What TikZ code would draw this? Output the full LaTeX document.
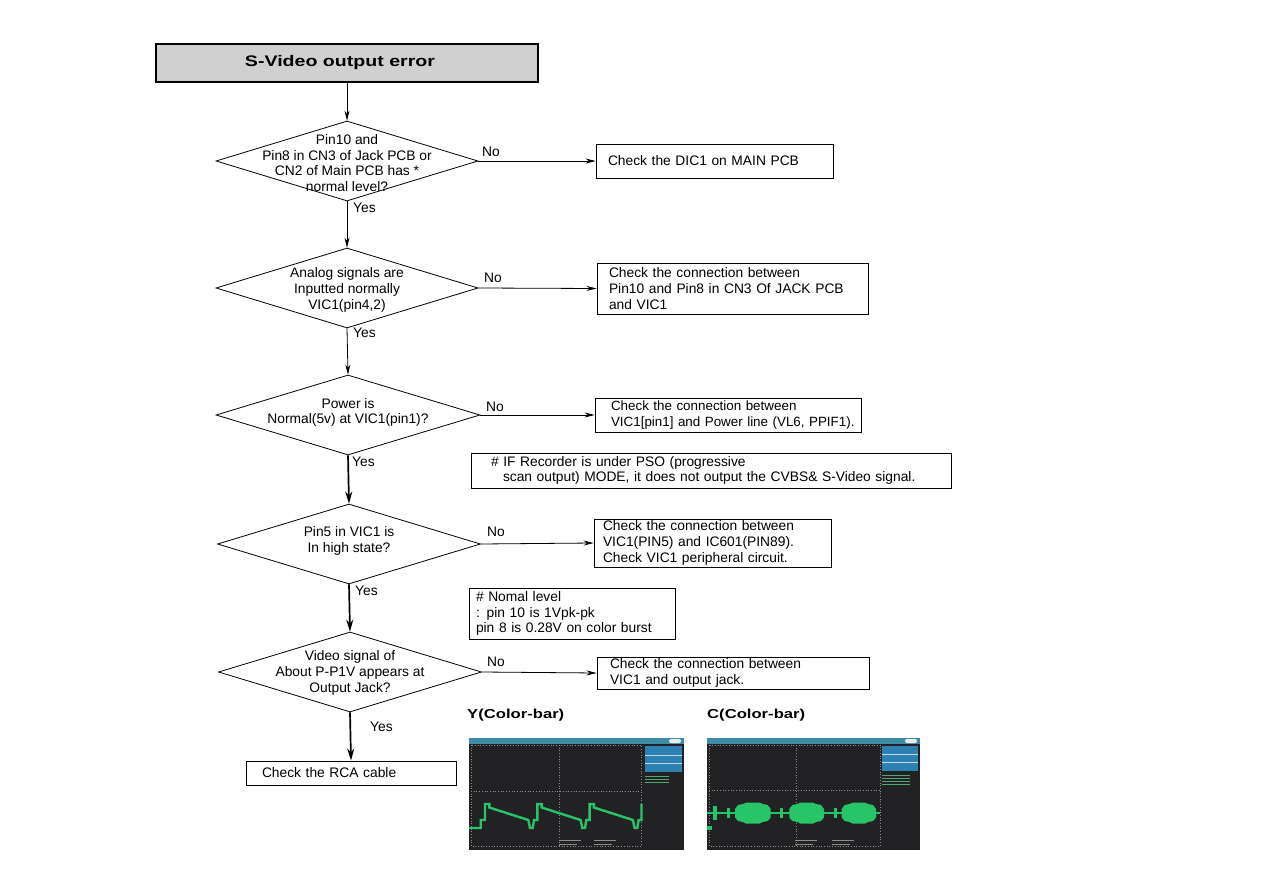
\documentclass[tikz,border=0pt]{standalone}
\usepackage{fontspec}
\setmainfont{Liberation Sans}
\newfontfamily\widebold{Liberation Sans}[FakeStretch=1.28]
\usetikzlibrary{shapes.geometric,arrows.meta}
\definecolor{titlegray}{RGB}{208,208,208}
\definecolor{scopebg}{RGB}{34,34,36}
\definecolor{scopebar}{RGB}{62,140,166}
\definecolor{scopeblue}{RGB}{44,128,178}
\definecolor{scopegreen}{RGB}{40,196,104}
\definecolor{gridgray}{RGB}{140,140,140}
\tikzset{
  every node/.style={font=\fontsize{13.8}{15.6}\selectfont},
  dia/.style={shape=diamond, draw, line width=0.8pt, minimum width=262pt, minimum height=80pt, inner sep=0pt},
  dtext/.style={align=center, inner sep=0pt},
  box/.style={draw, line width=0.9pt, align=left, inner ysep=0pt},
  lab/.style={inner sep=0pt, anchor=west},
  conn/.style={line width=0.8pt, -{Stealth[length=10pt,width=5pt]}},
  bconn/.style={line width=1.7pt, -{Stealth[length=12pt,width=7pt]}},
  scopelbl/.style={font=\widebold\bfseries\fontsize{13}{15}\selectfont, inner sep=0pt, anchor=west},
  wave/.style={draw=scopegreen, line width=2.4pt, line join=miter},
  grid dots/.style={draw=gridgray, line width=0.7pt, dotted}
}
\begin{document}
\begin{tikzpicture}[x=1pt,y=-1pt]
\useasboundingbox[fill=white] (0,0) rectangle (1263,893);

% title
\node[draw, fill=titlegray, line width=1.1pt, minimum width=382pt, minimum height=38pt,
      font=\widebold\bfseries\fontsize{15.3}{18}\selectfont] (t) at (347,63) {S-Video output error\hspace*{14pt}};

% decisions
\node[dia, label={[dtext, yshift=-2pt]center:{Pin10 and\\Pin8 in CN3 of Jack PCB or\\CN2 of Main PCB has *\\normal level?}}] (d1) at (347,161) {};
\node[dia, label={[dtext, yshift=-2pt]center:{Analog signals are\\Inputted normally\\VIC1(pin4,2)}}] (d2) at (347,288) {};
\node[dia, minimum width=264pt, label={[dtext, yshift=2.5pt]center:{Power is\\Normal(5v) at VIC1(pin1)?}}] (d3) at (348,415) {};
\node[dia, minimum width=263pt, label={[dtext, yshift=3pt]center:{Pin5 in VIC1 is\\In high state?}}] (d4) at (349,544) {};
\node[dia, minimum width=263pt, label={[dtext, yshift=-1pt]center:{Video signal of\\About P-P1V appears at\\Output Jack?}}] (d5) at (350,672) {};

% action boxes
\node[box, text width=213pt, inner xsep=12pt, minimum height=34pt] (b1) at (714.5,161) {Check the DIC1 on MAIN PCB};
\node[box, text width=247pt, inner xsep=12pt, minimum height=51pt] (b2) at (732.5,288.5) {Check the connection between\\Pin10 and Pin8 in CN3 Of JACK PCB\\and VIC1};
\node[box, text width=264pt, inner xsep=1pt, minimum height=34pt, font=\fontsize{13.4}{15.6}\selectfont] (b3) at (728,415) {\hspace*{15pt}Check the connection between\\\hspace*{15pt}VIC1[pin1] and Power line (VL6, PPIF1).};
\node[box, text width=219pt, inner xsep=9pt, minimum height=48pt] (b4) at (712.5,543) {Check the connection between\\VIC1(PIN5) and IC601(PIN89).\\Check VIC1 peripheral circuit.};
\node[box, text width=246pt, inner xsep=13pt, minimum height=32pt] (b5) at (733,673) {Check the connection between\\VIC1 and output jack.};
\node[box, text width=178pt, inner xsep=16pt, minimum height=24pt] (b6) at (351,773) {Check the RCA cable};

% notes
\node[box, text width=440pt, inner xsep=20pt, minimum height=35pt] (na) at (711,470.5) {\# IF Recorder is under PSO (progressive\\\hspace*{12pt}scan output) MODE, it does not output the CVBS\& S-Video signal.};
\node[box, text width=192pt, inner xsep=7pt, minimum height=51pt] (nb) at (572,613.5) {\# Nomal level\\: pin 10 is 1Vpk-pk\\pin 8 is 0.28V on color burst};

% connectors
\draw[conn] (t.south) -- (d1.north);
\draw[conn] (d1.south) -- (d2.north);
\draw[conn] (d2.south) -- (d3.north);
\draw[bconn] (d3.south) -- (d4.north);
\draw[bconn] (d4.south) -- (d5.north);
\draw[bconn] (d5.south) -- (b6.north);
\draw[conn] (d1.east) -- (b1.west);
\draw[conn] (d2.east) -- (b2.west);
\draw[conn] (d3.east) -- (b3.west);
\draw[conn] (d4.east) -- (b4.west);
\draw[conn] (d5.east) -- (b5.west);

% labels
\node[lab] (no1) at (482,152) {No};
\node[lab] (no2) at (484,278) {No};
\node[lab] (no3) at (486,407) {No};
\node[lab] (no4) at (487,532) {No};
\node[lab] (no5) at (487,662) {No};
\node[lab] (ye1) at (353,208) {Yes};
\node[lab] (ye2) at (353,333) {Yes};
\node[lab] (ye3) at (352,462) {Yes};
\node[lab] (ye4) at (355,591) {Yes};
\node[lab] (ye5) at (370,727) {Yes};

% scope captions
\node[scopelbl] (yc) at (467,715) {Y(Color-bar)};
\node[scopelbl] (cc) at (707,715) {C(Color-bar)};

% Y scope
\begin{scope}[shift={(469,738)}]
  \fill[scopebg] (0,0) rectangle (215,112);
  \fill[scopebar] (0,0) rectangle (215,6);
  \fill[scopeblue] (176,8) rectangle (213,34);
  \draw[white!70!scopeblue, line width=0.6pt] (176,17) -- (213,17) (176,25) -- (213,25);
  \fill[white!85!gray, rounded corners=2pt] (200,1) rectangle (212,5);
  \draw[grid dots] (2,7) rectangle (172,108);
  \draw[grid dots] (90,7) -- (90,108) (2,53) -- (172,53);
  \foreach \yy in {38,41,44} \draw[scopegreen!60!gray, line width=0.8pt] (176,\yy) -- (200,\yy);
  \foreach \xx in {90,125} \draw[gridgray, line width=0.8pt] (\xx,102) -- (\xx+22,102) (\xx,106) -- (\xx+18,106);
  \draw[wave] (0,90) -- (11.7,90) -- (11.7,82)
    -- (16,82) -- (16,66) -- (20.3,66) -- (20.3,69.5) -- (59.3,82) -- (61,90) -- (63.7,90) -- (65,82)
    -- (68.3,82) -- (68.3,66) -- (72.6,66) -- (72.6,69.5) -- (111.6,82) -- (113.3,90) -- (116,90) -- (117.3,82)
    -- (120.6,82) -- (120.6,66) -- (124.9,66) -- (124.9,69.5) -- (163.9,82) -- (165.6,90) -- (168.3,90) -- (169.6,82)
    -- (172.5,82) -- (172.5,66);
\end{scope}

% C scope
\begin{scope}[shift={(707,738)}]
  \fill[scopebg] (0,0) rectangle (213,112);
  \fill[scopebar] (0,0) rectangle (213,6);
  \fill[scopeblue] (175,8) rectangle (211,33);
  \draw[white!70!scopeblue, line width=0.6pt] (175,16) -- (211,16) (175,24) -- (211,24);
  \fill[white!85!gray, rounded corners=2pt] (198,1) rectangle (210,5);
  \draw[grid dots] (2,7) rectangle (173,108);
  \draw[grid dots] (89.7,7) -- (89.7,108) (2,52.7) -- (173,52.7);
  \foreach \yy in {37,40,43,46} \draw[scopegreen!60!gray, line width=0.8pt] (175,\yy) -- (203,\yy);
  \foreach \xx in {88,125} \draw[gridgray, line width=0.8pt] (\xx,102) -- (\xx+22,102) (\xx,106) -- (\xx+18,106);
  \draw[scopegreen, line width=2pt] (0,75.3) -- (173,75.3);
  \fill[scopegreen] (5.7,68) rectangle (9.7,82);
  \fill[scopegreen] (0,88) rectangle (5,92);
  \foreach \bx in {21.3,74.7,128} \fill[scopegreen] (\bx-1.5,70) rectangle (\bx+1.5,80);
  \foreach \xa/\xb in {28/63.7, 82.3/117, 134.7/169}
    \fill[scopegreen] (\xa,71) -- (\xa+3,67) -- (\xa+8,66) -- (\xa+11,64.7) -- (\xb-11,64.7) -- (\xb-8,66) -- (\xb-3,67) -- (\xb,71)
       -- (\xb,79.5) -- (\xb-3,83) -- (\xb-8,84) -- (\xb-11,85.5) -- (\xa+11,85.5) -- (\xa+8,84) -- (\xa+3,83) -- (\xa,79.5) -- cycle;
\end{scope}
\end{tikzpicture}
\end{document}
